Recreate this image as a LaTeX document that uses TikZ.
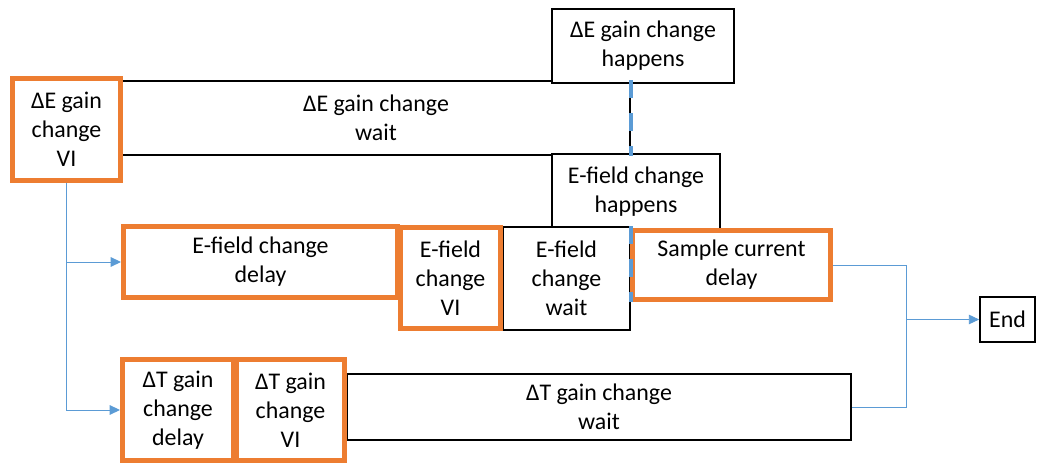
\documentclass[tikz,border=0pt]{standalone}
\usepackage{fontspec}
\setmainfont{Carlito}
\usepackage{tikz}
\usetikzlibrary{arrows.meta,positioning,calc}
\definecolor{tmorg}{RGB}{237,125,49}
\definecolor{tmblue}{RGB}{91,155,213}
\definecolor{tmedge}{RGB}{0,0,0}
\tikzset{
  tmbox/.style={
    draw=tmedge, line width=1.2pt, fill=white,
    align=center, inner sep=1pt,
    font=\fontsize{17}{20.6}\selectfont
  },
  blk/.style={tmbox},
  org/.style={tmbox, draw=tmorg, line width=3.5pt},
  arr/.style={-{Triangle[length=2.6mm,width=2.4mm]}, draw=tmblue, line width=0.7pt},
  lnk/.style={draw=tmblue, line width=0.7pt},
  mk/.style={draw=tmblue, line width=2.8pt, dash pattern=on 12.8pt off 10.6pt}
}
\begin{document}
\begin{tikzpicture}[x=0.025cm,y=-0.025cm]
  \useasboundingbox (0,0) rectangle (1042,465);

  % Delta E row
  \node[blk, minimum width=508*0.025cm, minimum height=74*0.025cm] (ewait) at (376,118) {ΔE gain change\\wait};
  \node[org, minimum width=108*0.025cm, minimum height=102*0.025cm] (evi) at (66.5,129.5) {ΔE gain\\change\\VI};
  \node[blk, minimum width=182*0.025cm, minimum height=74*0.025cm] (ehap) at (643,46) {ΔE gain change\\happens};
  \node[blk, minimum width=168*0.025cm, minimum height=75*0.025cm] (fhap) at (636,191.5) {E-field change\\happens};

  % E-field row
  \node[blk, minimum width=127*0.025cm, minimum height=103*0.025cm] (fwait) at (566.5,278.5) {E-field\\change\\wait};
  \node[org, minimum width=274*0.025cm, minimum height=71*0.025cm] (fdel) at (260.5,262) {E-field change\\delay};
  \node[org, minimum width=100*0.025cm, minimum height=101*0.025cm] (fvi) at (450.5,278) {E-field\\change\\VI};
  \node[org, minimum width=198*0.025cm, minimum height=69*0.025cm] (sdel) at (731.5,265) {Sample current\\delay};

  % Delta T row
  \node[blk, minimum width=504*0.025cm, minimum height=66*0.025cm] (twait) at (599,407) {ΔT gain change\\wait};
  \node[org, minimum width=111*0.025cm, minimum height=101*0.025cm] (tdel) at (178,410) {ΔT gain\\change\\delay};
  \node[org, minimum width=108*0.025cm, minimum height=101*0.025cm] (tvi) at (290.5,410) {ΔT gain\\change\\VI};

  \node[blk, minimum width=55*0.025cm, minimum height=45*0.025cm] (end) at (1007.5,319.5) {End};

  % time marks
  \draw[mk] (ewait.north east) -- (ewait.south east);
  \draw[mk] (fwait.north east) -- (fwait.north east |- sdel.south);

  % connectors
  \draw[arr] (evi.south) |- (fdel.west);
  \draw[arr] (evi.south) |- (tdel.west);
  \coordinate (jn) at (906,319.5);
  \draw[lnk] (sdel.east) -| (jn);
  \draw[lnk] (twait.east) -| (jn);
  \draw[arr] (jn) -- (end.west);
\end{tikzpicture}
\end{document}
